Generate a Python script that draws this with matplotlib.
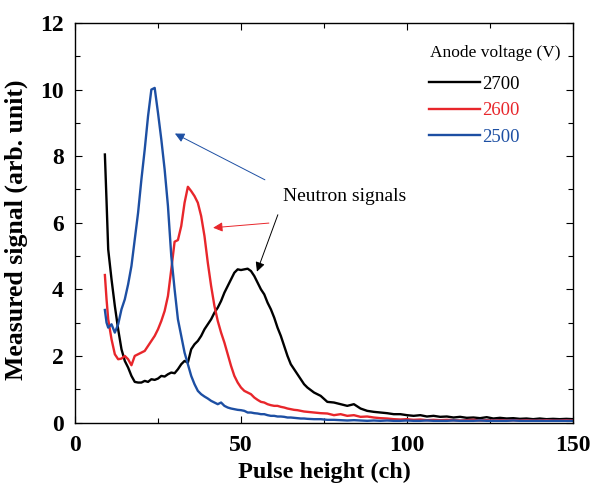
import matplotlib
matplotlib.use("Agg")
import matplotlib.pyplot as plt
from matplotlib.ticker import MultipleLocator

plt.rcParams['font.family'] = ['Liberation Serif', 'DejaVu Serif']

# channel grid: fine near the peaks, coarser in the tail
channel = [9, 9.5] + list(range(10, 70)) + list(range(70, 151, 2))

sig_2700 = [8.05, 6.65, 5.2, 4.3, 3.5, 2.8, 2.2, 1.85, 1.65, 1.4, 1.22, 1.2,
            1.2, 1.25, 1.22, 1.3, 1.28, 1.32, 1.4, 1.38, 1.45, 1.5, 1.48, 1.6,
            1.75, 1.85, 1.8, 2.2, 2.35, 2.45, 2.6, 2.8, 2.95, 3.1, 3.3, 3.45,
            3.65, 3.9, 4.1, 4.3, 4.5, 4.6, 4.58, 4.6, 4.62, 4.55, 4.4, 4.2,
            4.0, 3.85, 3.6, 3.4, 3.15, 2.85, 2.6, 2.3, 2.0, 1.75, 1.6, 1.45,
            1.3, 1.15,
            1.05, 0.9, 0.8, 0.62, 0.6, 0.55, 0.5, 0.55, 0.42, 0.35, 0.32, 0.3,
            0.28, 0.25, 0.25, 0.22, 0.2, 0.22, 0.18, 0.2, 0.17, 0.18, 0.15,
            0.17, 0.14, 0.15, 0.13, 0.16, 0.12, 0.14, 0.12, 0.13, 0.11, 0.12,
            0.1, 0.12, 0.1, 0.11, 0.1, 0.11, 0.1]

sig_2600 = [4.43, 3.7, 3.1, 2.5, 2.05, 1.9, 1.92, 2.0, 1.9, 1.72, 2.0, 2.05,
            2.1, 2.15, 2.3, 2.45, 2.6, 2.8, 3.05, 3.35, 3.8, 4.6, 5.43, 5.48,
            5.9, 6.6, 7.08, 6.95, 6.8, 6.6, 6.2, 5.6, 4.8, 4.1, 3.5, 3.05,
            2.7, 2.4, 2.05, 1.7, 1.4, 1.2, 1.05, 0.95, 0.9, 0.85, 0.75, 0.68,
            0.62, 0.6, 0.55, 0.52, 0.5, 0.5, 0.47, 0.45, 0.42, 0.4, 0.38, 0.37,
            0.35, 0.33,
            0.32, 0.3, 0.28, 0.27, 0.22, 0.25, 0.2, 0.22, 0.17, 0.18, 0.15,
            0.13, 0.12, 0.1, 0.09, 0.1, 0.08, 0.09, 0.07, 0.08, 0.07, 0.08,
            0.07, 0.06, 0.07, 0.08, 0.06, 0.07, 0.06, 0.07, 0.06, 0.07, 0.06,
            0.07, 0.06, 0.06, 0.07, 0.06, 0.06, 0.07, 0.06]

sig_2500 = [3.38, 3.0, 2.85, 2.95, 2.7, 2.95, 3.4, 3.7, 4.15, 4.7, 5.5, 6.3,
            7.3, 8.2, 9.2, 10.0, 10.05, 9.3, 8.5, 7.6, 6.5, 5.0, 4.0, 3.1,
            2.6, 2.1, 1.75, 1.4, 1.15, 0.95, 0.85, 0.78, 0.72, 0.65, 0.6, 0.55,
            0.6, 0.5, 0.45, 0.42, 0.4, 0.38, 0.37, 0.35, 0.3, 0.3, 0.28, 0.27,
            0.25, 0.25, 0.22, 0.2, 0.2, 0.18, 0.18, 0.17, 0.15, 0.15, 0.14,
            0.13, 0.12, 0.12,
            0.11, 0.1, 0.1, 0.08, 0.08, 0.07, 0.06, 0.07, 0.06, 0.05, 0.06,
            0.05, 0.06, 0.05, 0.05, 0.06, 0.05, 0.05, 0.06, 0.05, 0.05, 0.05,
            0.06, 0.05, 0.05, 0.05, 0.06, 0.05, 0.05, 0.05, 0.05, 0.06, 0.05,
            0.05, 0.05, 0.05, 0.05, 0.05, 0.05, 0.05, 0.05]

voltages = ['2700', '2600', '2500']
colors = ['#000000', '#e8262b', '#1d4fa3']

fig = plt.figure(figsize=(5.95, 4.86), dpi=100)
ax = fig.add_axes([75 / 595, 1 - 422.5 / 486, 498 / 595, 399.5 / 486])

for sig, v, c in zip([sig_2700, sig_2600, sig_2500], voltages, colors):
    ax.plot(channel, sig, color=c, lw=1.7, label=v)

ax.set_xlim(0, 150)
ax.set_ylim(0, 12)
ax.xaxis.set_major_locator(MultipleLocator(50))
ax.xaxis.set_minor_locator(MultipleLocator(25))
ax.yaxis.set_major_locator(MultipleLocator(2))
ax.yaxis.set_minor_locator(MultipleLocator(1))
ax.tick_params(which='both', direction='in', top=True, right=True, width=0.8)
ax.tick_params(which='major', length=5, labelsize=17)
ax.tick_params(axis='x', which='major', pad=9)
ax.tick_params(axis='y', which='major', pad=8)
ax.tick_params(which='minor', length=3.5)
for lab in ax.get_xticklabels() + ax.get_yticklabels():
    lab.set_fontweight('bold')
for sp in ax.spines.values():
    sp.set_linewidth(1.0)

ax.set_xlabel('Pulse height (ch)', fontsize=17.5, fontweight='bold', labelpad=4)
ax.set_ylabel('Measured signal (arb. unit)', fontsize=18.5, fontweight='bold')
ax.yaxis.set_label_coords(-0.094, 0.482)

# legend
ax.text(0.975, 0.925, 'Anode voltage (V)', transform=ax.transAxes,
        ha='right', va='center', fontsize=12.5)
leg = ax.legend(loc='upper left', bbox_to_anchor=(0.71, 0.868), frameon=False,
                fontsize=13.5, handlelength=2.75, handletextpad=0.1,
                labelspacing=0.5, borderpad=0, borderaxespad=0)
for txt, c in zip(leg.get_texts(), colors):
    txt.set_color(c)

# annotations
ax.text(62.7, 6.8, 'Neutron signals', fontsize=14, ha='left', va='center')
arrows = [((57.2, 7.29), (30.1, 8.68), colors[2]),
          ((58.4, 5.99), (41.6, 5.85), colors[1]),
          ((61.1, 6.24), (54.8, 4.53), colors[0])]
for tail, head, c in arrows:
    ax.annotate('', xy=head, xytext=tail,
                arrowprops=dict(arrowstyle='-|>', color=c, lw=0.7,
                                mutation_scale=14, shrinkA=0, shrinkB=0))

fig.savefig('out.png', dpi=100)
